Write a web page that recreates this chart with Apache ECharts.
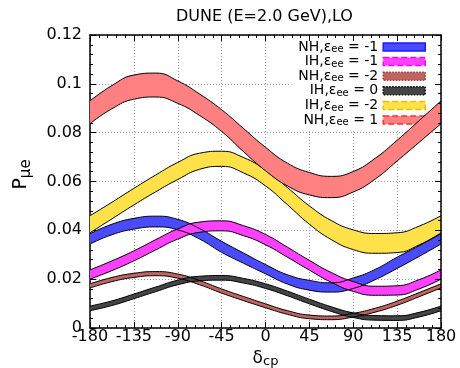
<!DOCTYPE html>
<html>
<head>
<meta charset="utf-8">
<script src="https://cdn.jsdelivr.net/npm/echarts@6/dist/echarts.min.js"></script>
<style>html,body{margin:0;padding:0;background:#fff}#c{width:460px;height:368px}#err{position:absolute;left:0;top:0;font:10px sans-serif;color:red}</style>
</head>
<body>
<div id="c"></div>
<div id="err"></div>
<script>
window.onerror = function (m) { document.getElementById('err').textContent += m + ' | '; };
// delta_CP sample points (degrees)
const deltaCP = [-180,-157.5,-135,-112.5,-90,-67.5,-45,-22.5,0,22.5,45,67.5,90,112.5,135,157.5,180];

// Band edges (lower / upper) of P(mu->e)
const nhM1Lo = [0.0344,0.0382,0.0405,0.0414,0.0402,0.0364,0.0310,0.0265,0.0222,0.0180,0.0155,0.0147,0.0162,0.0198,0.0244,0.0293,0.0344];
const nhM1Hi = [0.0386,0.0425,0.0449,0.0458,0.0445,0.0407,0.0355,0.0307,0.0260,0.0218,0.0195,0.0185,0.0205,0.0240,0.0290,0.0337,0.0386];

const ihM1Lo = [0.0200,0.0235,0.0275,0.0320,0.0364,0.0392,0.0398,0.0378,0.0341,0.0290,0.0237,0.0187,0.0150,0.0134,0.0135,0.0160,0.0200];
const ihM1Hi = [0.0238,0.0275,0.0316,0.0362,0.0406,0.0434,0.0439,0.0419,0.0383,0.0331,0.0277,0.0227,0.0190,0.0171,0.0173,0.0198,0.0238];

const nhM2Lo = [0.0164,0.0190,0.0207,0.0214,0.0204,0.0177,0.0143,0.0112,0.0083,0.0056,0.0038,0.0034,0.0045,0.0065,0.0093,0.0128,0.0164];
const nhM2Hi = [0.0181,0.0207,0.0224,0.0231,0.0221,0.0194,0.0160,0.0129,0.0099,0.0071,0.0053,0.0049,0.0060,0.0081,0.0110,0.0145,0.0181];

const ih0Lo = [0.0071,0.0092,0.0120,0.0149,0.0177,0.0193,0.0196,0.0184,0.0162,0.0132,0.0099,0.0068,0.0043,0.0032,0.0031,0.0045,0.0071];
const ih0Hi = [0.0090,0.0111,0.0139,0.0168,0.0196,0.0212,0.0215,0.0203,0.0181,0.0151,0.0118,0.0087,0.0062,0.0051,0.0050,0.0064,0.0090];

const ihM2Lo = [0.0390,0.0447,0.0504,0.0558,0.0608,0.0650,0.0662,0.0635,0.0582,0.0505,0.0425,0.0362,0.0321,0.0306,0.0309,0.0340,0.0390];
const ihM2Hi = [0.0460,0.0515,0.0572,0.0627,0.0678,0.0716,0.0724,0.0698,0.0647,0.0575,0.0500,0.0440,0.0402,0.0387,0.0390,0.0417,0.0460];

const nhP1Lo = [0.0837,0.0898,0.0937,0.0946,0.0920,0.0870,0.0805,0.0722,0.0644,0.0582,0.0545,0.0534,0.0557,0.0610,0.0684,0.0760,0.0837];
const nhP1Hi = [0.0930,0.0993,0.1036,0.1044,0.1012,0.0958,0.0894,0.0817,0.0740,0.0675,0.0637,0.0621,0.0641,0.0695,0.0769,0.0849,0.0930];

const seriesNames = ['NH,εee = -1','IH,εee = -1','NH,εee = -2','IH,εee = 0','IH,εee = -2','NH,εee = 1'];
const xTicks = [-180,-135,-90,-45,0,45,90,135,180];
const yTicks = [0,0.02,0.04,0.06,0.08,0.1,0.12];

const bands = [
  {lo:nhM1Lo, hi:nhM1Hi, fill:'#4a4aff', border:'#1a1aff', btype:'solid', z:2},
  {lo:ihM1Lo, hi:ihM1Hi, fill:'#ff40ff', border:'#ff00ff', btype:'dashed', z:2},
  {lo:nhM2Lo, hi:nhM2Hi, fill:'#c06460', border:'#a03c3c', btype:'dotted', z:2},
  {lo:ih0Lo,  hi:ih0Hi,  fill:'#444444', border:'#000000', btype:'dotted', z:2},
  {lo:ihM2Lo, hi:ihM2Hi, fill:'#ffe14a', border:'#e8c000', btype:'dashed', z:2},
  {lo:nhP1Lo, hi:nhP1Hi, fill:'#ff8080', border:'#ff3030', btype:'dashed', z:5}
];

const FONT = 'DejaVu Sans';
const SMOOTH = 0.5;
const series = [];
bands.forEach((b, i) => {
  const stack = 'band' + i;
  series.push({
    name: '_lower' + i, type: 'line', stack: stack, z: b.z, xAxisIndex: 0,
    data: b.lo.slice(),
    smooth: SMOOTH, symbol: 'none', showSymbol: false,
    lineStyle: {color: '#000', width: 1},
    itemStyle: {color: b.fill},
    silent: true
  });
  series.push({
    name: seriesNames[i], type: 'line', stack: stack, z: b.z, xAxisIndex: 0,
    data: b.hi.map((v, k) => +(v - b.lo[k]).toFixed(6)),
    smooth: SMOOTH, symbol: 'none', showSymbol: false,
    lineStyle: {color: '#000', width: 1},
    itemStyle: {color: b.fill},
    areaStyle: {color: b.fill, opacity: 1},
    silent: true
  });
});

const gridLine = {show: true, lineStyle: {color: '#9a9a9a', width: 1, type: [1, 2]}};
const axLine = {show: true, onZero: false, lineStyle: {color: '#000', width: 1.5}};
const tick = {show: true, inside: true, length: 6, lineStyle: {color: '#000', width: 1}};
const minor = {show: true, splitNumber: 5, length: 3, lineStyle: {color: '#000', width: 1}};

const chart = echarts.init(document.getElementById('c'), null, {renderer: 'canvas'});
chart.setOption({
  animation: false,
  backgroundColor: '#fff',
  title: {
    text: 'DUNE (E=2.0 GeV),LO', left: 176, top: 9, padding: 0,
    textStyle: {fontFamily: FONT, fontSize: 16, fontWeight: 'normal', color: '#000'}
  },
  grid: {left: 90, right: 19, top: 35, bottom: 40, containLabel: false, outerBoundsMode: 'none'},
  legend: {
    data: bands.map((b, i) => ({
      name: seriesNames[i],
      itemStyle: {color: b.fill, borderColor: b.border, borderWidth: 1.5, borderType: b.btype}
    })),
    orient: 'vertical', right: 27, top: 38, align: 'right',
    padding: [2, 7, 3, 7], itemGap: 0, itemWidth: 42, itemHeight: 8, icon: 'rect',
    backgroundColor: '#fff', selectedMode: false,
    formatter: function (name) {
      const p = name.split('ee');
      return '{a|' + p[0] + '}{s|ee}{a|' + p[1] + '}';
    },
    textStyle: {
      fontFamily: FONT, color: '#000',
      rich: {
        a: {fontFamily: FONT, fontSize: 14, lineHeight: 15.2, color: '#000'},
        s: {fontFamily: FONT, fontSize: 10, lineHeight: 15.2, verticalAlign: 'bottom', color: '#000'}
      }
    }
  },
  xAxis: [{
    type: 'category', data: deltaCP.map(String), boundaryGap: false, show: false, position: 'bottom'
  }, {
    type: 'value', min: xTicks[0], max: xTicks[xTicks.length - 1], interval: xTicks[1] - xTicks[0],
    position: 'bottom',
    axisLine: axLine, axisTick: tick, minorTick: minor, splitLine: gridLine,
    axisLabel: {fontFamily: FONT, fontSize: 16, color: '#000', margin: 1},
    name: '{d|δ}{s|cp}', nameLocation: 'middle', nameGap: 11,
    nameTextStyle: {
      rich: {
        d: {fontFamily: FONT, fontSize: 17, lineHeight: 20, color: '#000'},
        s: {fontFamily: FONT, fontSize: 13, lineHeight: 20, verticalAlign: 'bottom', color: '#000'}
      }
    }
  }, {
    type: 'value', min: xTicks[0], max: xTicks[xTicks.length - 1], interval: xTicks[1] - xTicks[0],
    position: 'top', z: 6,
    axisLine: axLine, axisTick: tick, minorTick: minor, splitLine: {show: false},
    axisLabel: {show: false}
  }],
  yAxis: [{
    type: 'value', min: yTicks[0], max: yTicks[yTicks.length - 1], interval: yTicks[1] - yTicks[0],
    position: 'left',
    axisLine: axLine, axisTick: tick, minorTick: minor, splitLine: gridLine,
    axisLabel: {fontFamily: FONT, fontSize: 16, color: '#000', margin: 8},
    name: '{d|P}{s|μe}', nameLocation: 'middle', nameRotate: 90, nameGap: 56,
    nameTextStyle: {
      padding: [0, 0, 0, 14],
      rich: {
        d: {fontFamily: FONT, fontSize: 19, lineHeight: 26, color: '#000'},
        s: {fontFamily: FONT, fontSize: 15, lineHeight: 26, verticalAlign: 'bottom', color: '#000'}
      }
    }
  }, {
    type: 'value', min: yTicks[0], max: yTicks[yTicks.length - 1], interval: yTicks[1] - yTicks[0],
    position: 'right', z: 6,
    axisLine: axLine, axisTick: tick, minorTick: minor, splitLine: {show: false},
    axisLabel: {show: false}
  }],
  series: series
});
</script>
</body>
</html>
